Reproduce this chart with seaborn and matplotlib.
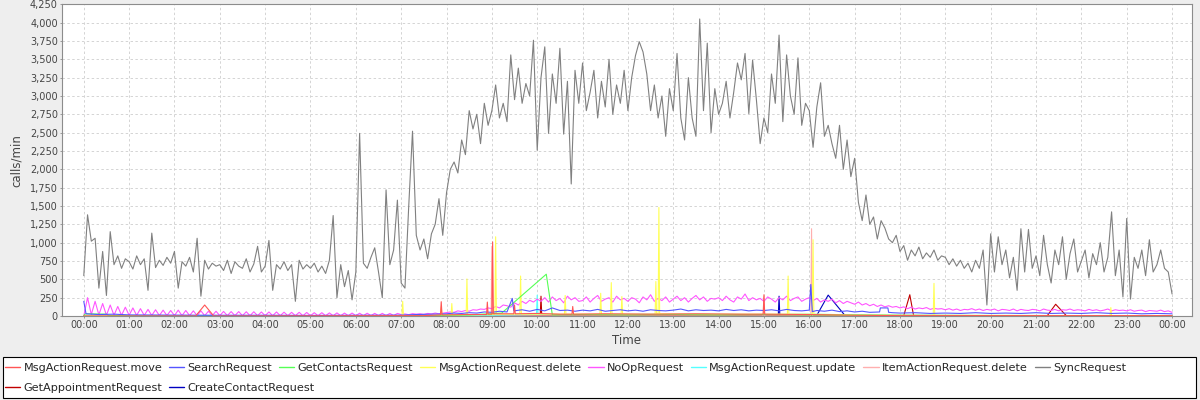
import matplotlib

matplotlib.use("Agg")
import matplotlib.pyplot as plt
import numpy as np
import seaborn as sns
from matplotlib.lines import Line2D
from matplotlib.patches import Rectangle
from matplotlib.ticker import FuncFormatter, MultipleLocator

# SyncRequest, calls/min, one value every 5 minutes from 00:00 to 24:00 (one row per hour)
sync_calls = [
    550, 1380, 1020, 1060, 380, 880, 280, 1150, 700, 820, 650, 780,
    740, 640, 820, 700, 780, 350, 1130, 660, 760, 690, 800, 720,
    880, 380, 740, 680, 800, 600, 1060, 270, 760, 640, 720, 680,
    700, 620, 760, 580, 740, 680, 650, 780, 600, 710, 950, 600,
    680, 1030, 350, 700, 640, 740, 620, 700, 200, 760, 640, 700,
    650, 720, 600, 680, 580, 760, 1370, 250, 700, 400, 620, 220,
    600, 2490, 720, 650, 800, 930, 600, 250, 1720, 700, 900, 1580,
    450, 380, 1500, 2520, 1100, 900, 1050, 780, 1120, 1250, 1600, 1100,
    1680, 2000, 2100, 1950, 2400, 2200, 2800, 2550, 2750, 2350, 2900, 2600,
    2800, 3150, 2700, 2900, 2650, 3560, 2950, 3380, 2900, 3170, 3000, 3760,
    2260, 3250, 3670, 2490, 3300, 2900, 3650, 2480, 3200, 1800, 3350, 2900,
    3450, 2800, 3050, 3350, 2700, 3200, 2850, 3500, 2750, 3150, 2900, 3350,
    2800, 3250, 3550, 3740, 3600, 3300, 2800, 3150, 2700, 3000, 2450, 3100,
    2800, 3580, 2700, 2400, 3250, 2700, 2450, 4050, 2800, 3720, 2500, 3100,
    2750, 2900, 3200, 2700, 3050, 3450, 3220, 3580, 2760, 3490, 2950, 2350,
    2700, 2500, 3300, 2900, 3830, 2650, 3560, 3000, 2750, 3520, 2600, 2900,
    2800, 2300, 2850, 3180, 2450, 2600, 2350, 2150, 2600, 2000, 2400, 1900,
    2150, 1550, 1300, 1650, 1250, 1350, 1050, 1300, 1200, 1050, 1000, 1100,
    880, 960, 760, 900, 820, 940, 780, 860, 800, 900, 760, 820,
    800, 700, 780, 680, 760, 650, 720, 600, 760, 650, 900, 150,
    1120, 600, 1080, 700, 900, 520, 800, 350, 1190, 600, 1180, 650,
    820, 550, 1100, 700, 450, 900, 700, 1080, 500, 850, 1050, 600,
    750, 900, 520, 850, 700, 1000, 600, 800, 1420, 550, 900, 260,
    1330, 230, 800, 650, 900, 550, 1040, 600, 700, 900, 650, 600,
    300,
]

# NoOpRequest, same 5 minute grid
noop_calls = [
    0, 250, 20, 200, 15, 170, 10, 150, 10, 130, 10, 120,
    10, 110, 8, 100, 8, 90, 8, 85, 6, 80, 6, 75,
    6, 80, 5, 75, 5, 70, 5, 70, 5, 65, 5, 65,
    5, 62, 5, 60, 5, 60, 4, 58, 4, 58, 4, 55,
    4, 55, 4, 55, 4, 52, 4, 50, 4, 50, 4, 48,
    4, 45, 4, 45, 4, 42, 4, 42, 4, 40, 4, 40,
    4, 38, 4, 38, 5, 36, 5, 36, 5, 35, 6, 35,
    20, 28, 18, 32, 25, 30, 22, 35, 28, 40, 30, 38,
    45, 55, 50, 70, 60, 75, 65, 85, 80, 95, 90, 110,
    100, 130, 110, 150, 140, 120, 180, 150, 200, 170, 215, 190,
    230, 200, 250, 190, 260, 210, 240, 180, 270, 220, 250, 200,
    210, 260, 190, 240, 280, 200, 230, 250, 190, 270, 220, 240,
    200, 250, 230, 180, 260, 220, 290, 200, 240, 210, 260, 190,
    230, 270, 210, 250, 190, 240, 280, 220, 260, 200, 240, 230,
    250, 210, 270, 220, 190, 260, 230, 300, 210, 250, 220, 240,
    200, 260, 230, 190, 250, 220, 270, 210, 240, 260, 200, 230,
    250, 210, 240, 190, 220, 200, 230, 180, 210, 170, 200, 180,
    160, 190, 150, 170, 140, 160, 130, 150, 125, 140, 120, 130,
    110, 125, 100, 120, 95, 110, 100, 115, 90, 105, 95, 100,
    85, 100, 80, 95, 75, 90, 85, 100, 80, 95, 75, 90,
    80, 95, 70, 90, 85, 75, 95, 70, 90, 80, 75, 90,
    85, 70, 95, 80, 75, 90, 70, 85, 80, 95, 75, 85,
    80, 70, 90, 75, 85, 70, 80, 95, 70, 85, 75, 80,
    70, 85, 65, 75, 80, 60, 75, 70, 65, 80, 60, 70,
    50,
]

search_t = [
    "00:00", "00:03", "00:20", "00:40", "01:00", "02:00", "03:00", "04:00", "05:00", "06:00",
    "07:00", "07:20", "07:40", "08:00", "08:10", "08:20", "08:30", "08:40", "08:50", "09:00",
    "09:10", "09:20", "09:27", "09:29", "09:40", "09:50", "10:00", "10:10", "10:20", "10:30",
    "10:40", "10:50", "11:00", "11:10", "11:20", "11:30", "11:40", "11:50", "12:00", "12:10",
    "12:20", "12:30", "12:40", "12:50", "13:00", "13:10", "13:20", "13:30", "13:40", "13:50",
    "14:00", "14:10", "14:20", "14:30", "14:40", "14:50", "15:00", "15:10", "15:20", "15:30",
    "15:40", "15:50", "16:00", "16:02", "16:04", "16:10", "16:20", "16:30", "16:40", "16:50",
    "17:00", "17:10", "17:20", "17:33", "17:34", "17:44", "17:45", "17:50", "18:00", "18:20",
    "18:40", "19:00", "19:20", "19:40", "20:00", "20:20", "20:40", "21:00", "21:20", "21:40",
    "22:00", "22:20", "22:40", "23:00", "23:20", "23:40", "24:00",
]
search_v = [
    200, 30, 20, 25, 15, 12, 10, 10, 8, 10,
    12, 20, 25, 30, 40, 35, 45, 40, 55, 50,
    65, 55, 240, 70, 85, 65, 90, 70, 110, 75,
    80, 65, 80, 70, 90, 65, 75, 85, 70, 80,
    65, 85, 75, 70, 80, 95, 70, 85, 75, 80,
    70, 90, 75, 85, 70, 80, 75, 85, 70, 90,
    75, 70, 80, 430, 60, 75, 65, 80, 60, 70,
    55, 65, 50, 55, 110, 110, 50, 45, 40, 45,
    35, 40, 35, 45, 35, 40, 35, 45, 35, 40,
    35, 45, 35, 40, 30, 35, 30,
]

contacts_t = ["00:00", "00:02", "00:30", "00:33", "03:00", "06:00", "08:00", "08:30", "09:13",
              "10:12", "10:20", "11:00", "12:00", "13:00", "14:00", "15:00", "16:00", "17:00",
              "18:00", "20:00", "22:00", "24:00"]
contacts_v = [5, 30, 25, 5, 3, 3, 10, 15, 40, 570, 15, 20, 15, 20, 15, 20, 15, 12, 8, 6, 5, 5]

delete_t = ["00:00", "07:01", "07:02", "07:03", "07:52", "07:53", "07:54", "08:06", "08:07", "08:08",
            "08:26", "08:27", "08:28", "09:04", "09:05", "09:06", "09:37", "09:38", "09:39",
            "10:36", "10:37", "10:38", "11:23", "11:24", "11:25", "11:37", "11:38", "11:39",
            "11:51", "11:52", "11:53", "12:36", "12:37", "12:38", "12:40", "12:41", "12:42",
            "13:30", "14:30", "15:31", "15:32", "15:33", "16:04", "16:05", "16:06", "17:00",
            "18:44", "18:45", "18:46", "22:38", "22:39", "22:40", "24:00"]
delete_v = [0, 0, 200, 5, 5, 125, 10, 10, 170, 10,
            15, 505, 15, 20, 1080, 25, 25, 545, 25,
            25, 280, 25, 25, 310, 25, 25, 455, 25,
            25, 265, 25, 25, 470, 30, 30, 1480, 30,
            25, 25, 25, 545, 25, 25, 1040, 25, 15,
            10, 445, 10, 5, 115, 5, 5]

move_t = ["00:00", "02:28", "02:40", "02:52", "07:30", "07:52", "07:53", "07:54", "08:30", "08:53",
          "08:54", "08:55", "09:00", "09:01", "09:02", "09:29", "09:30", "09:31", "10:00", "10:30",
          "10:46", "10:47", "10:48", "11:30", "12:30", "13:30", "14:30", "14:59", "15:00", "15:01",
          "16:00", "17:00", "18:00", "20:00", "24:00"]
move_v = [0, 0, 150, 0, 5, 15, 195, 15, 20, 20,
          190, 25, 25, 1010, 30, 30, 150, 30, 35, 25,
          25, 130, 25, 30, 25, 30, 25, 25, 290, 25,
          20, 10, 5, 5, 5]

item_delete_t = ["00:00", "08:59", "09:00", "09:01", "14:59", "15:00", "15:01", "16:02", "16:03",
                 "16:04", "24:00"]
item_delete_v = [0, 2, 950, 2, 2, 260, 2, 2, 1190, 2, 0]

update_t = ["00:00", "07:00", "09:00", "09:59", "10:00", "10:01", "11:00", "13:00", "15:00",
            "16:00", "17:00", "18:00", "24:00"]
update_v = [0, 2, 10, 20, 285, 20, 20, 25, 20, 25, 15, 8, 5]

appointment_t = ["00:00", "10:04", "10:05", "10:06", "18:05", "18:13", "18:18", "21:15", "21:26",
                 "21:40", "24:00"]
appointment_v = [0, 5, 270, 5, 5, 290, 5, 5, 160, 5, 0]

create_contact_t = ["00:00", "15:19", "15:20", "15:21", "16:10", "16:25", "16:47", "24:00"]
create_contact_v = [0, 5, 270, 5, 10, 285, 10, 0]


def to_hours(stamps):
    out = []
    for s in stamps:
        h, m = s.split(":")
        out.append(int(h) + int(m) / 60)
    return out


def grid_hours(values):
    return np.arange(len(values)) * 5 / 60


# name, x, y, colour (jfreechart default series paints)
series = [
    ("MsgActionRequest.move", to_hours(move_t), move_v, "#FF5555"),
    ("SearchRequest", to_hours(search_t), search_v, "#5555FF"),
    ("GetContactsRequest", to_hours(contacts_t), contacts_v, "#55FF55"),
    ("MsgActionRequest.delete", to_hours(delete_t), delete_v, "#FFFF55"),
    ("NoOpRequest", grid_hours(noop_calls), noop_calls, "#FF55FF"),
    ("MsgActionRequest.update", to_hours(update_t), update_v, "#55FFFF"),
    ("ItemActionRequest.delete", to_hours(item_delete_t), item_delete_v, "#FFAFAF"),
    ("SyncRequest", grid_hours(sync_calls), sync_calls, "#808080"),
    ("GetAppointmentRequest", to_hours(appointment_t), appointment_v, "#C00000"),
    ("CreateContactRequest", to_hours(create_contact_t), create_contact_v, "#0000C0"),
]
colors = {name: c for name, _, _, c in series}

sns.set_style("white")
plt.rcParams["font.family"] = ["DejaVu Sans"]

fig = plt.figure(figsize=(12, 4), dpi=100, facecolor="#EEEEEE")
ax = fig.add_axes([62 / 1200, 1 - 316 / 400, 1130 / 1200, 311.7 / 400])
ax.set_facecolor("white")

# first series ends up on top, like the original renderer
for i, (name, x, y, color) in reversed(list(enumerate(series))):
    sns.lineplot(x=x, y=y, ax=ax, color=color, linewidth=0.8,
                 estimator=None, sort=False, zorder=3 + (len(series) - i) * 0.1)

ax.set_xlim(-0.48, 24.44)
ax.set_ylim(0, 4250)
ax.xaxis.set_major_locator(MultipleLocator(1))
ax.xaxis.set_major_formatter(FuncFormatter(lambda v, p: f"{int(round(v)) % 24:02d}:00"))
ax.yaxis.set_major_locator(MultipleLocator(250))
ax.yaxis.set_major_formatter(FuncFormatter(lambda v, p: f"{int(v):,}"))
ax.grid(True, color="#D4D4D4", linewidth=0.7, linestyle=(0, (2.5, 2.5)))
ax.set_axisbelow(True)
for sp in ax.spines.values():
    sp.set_color("#8C8C8C")
    sp.set_linewidth(0.8)
ax.tick_params(axis="both", length=1.5, width=0.6, color="#8C8C8C", pad=1.5,
               labelsize=7, labelcolor="#444444", bottom=True, left=True)
ax.set_xlabel("Time", fontsize=8.5, color="#444444", labelpad=3)
ax.set_ylabel("calls/min", fontsize=8.5, color="#444444", labelpad=5)

# legend box with two flowed rows
fig.patches.append(Rectangle((3 / 1200, 1 - 398 / 400), 1193 / 1200, 41 / 400,
                             transform=fig.transFigure, facecolor="white", edgecolor="black",
                             linewidth=0.8, zorder=1))
rows = [
    (["MsgActionRequest.move", "SearchRequest", "GetContactsRequest", "MsgActionRequest.delete",
      "NoOpRequest", "MsgActionRequest.update", "ItemActionRequest.delete", "SyncRequest"], 363),
    (["GetAppointmentRequest", "CreateContactRequest"], 383),
]
for names, top in rows:
    handles = [Line2D([], [], color=colors[n], linewidth=1.0) for n in names]
    fig.legend(handles, names, loc="upper left", ncol=len(names),
               bbox_to_anchor=(5 / 1200, 1 - top / 400), bbox_transform=fig.transFigure,
               frameon=False, fontsize=8.1, handlelength=1.35, handletextpad=0.3,
               columnspacing=0.6, borderpad=0, borderaxespad=0)

fig.savefig("out.png", dpi=100, facecolor=fig.get_facecolor())
